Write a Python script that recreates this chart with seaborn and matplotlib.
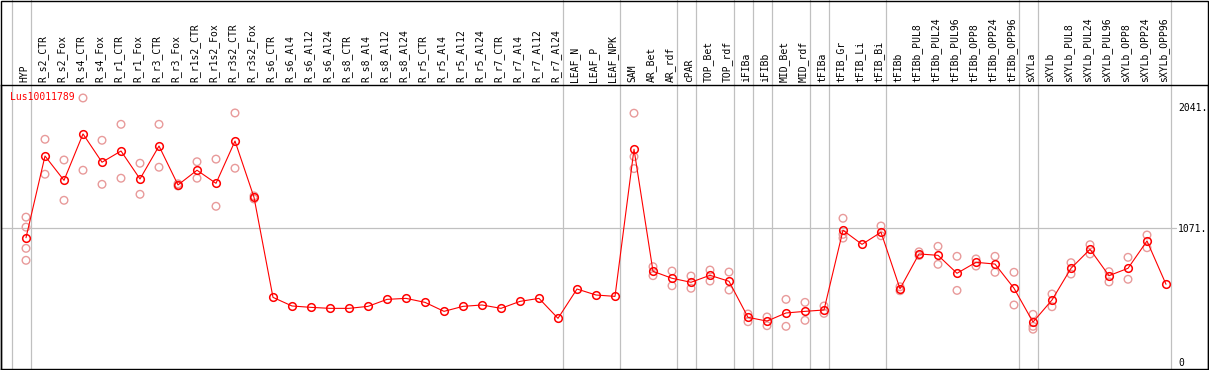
"""
Lus10011789 表达谱折线图（均值 + 重复样本）
"""

import matplotlib.pyplot as plt
import seaborn as sns
import pandas as pd
from matplotlib.patches import Rectangle
from matplotlib.transforms import ScaledTranslation

# 数据
gene = 'Lus10011789'
samples = [
    'HYP', 'R_s2_CTR', 'R_s2_Fox', 'R_s4_CTR', 'R_s4_Fox', 'R_r1_CTR', 'R_r1_Fox',
    'R_r3_CTR', 'R_r3_Fox', 'R_r1s2_CTR', 'R_r1s2_Fox', 'R_r3s2_CTR', 'R_r3s2_Fox',
    'R_s6_CTR', 'R_s6_Al4', 'R_s6_Al12', 'R_s6_Al24', 'R_s8_CTR', 'R_s8_Al4',
    'R_s8_Al12', 'R_s8_Al24', 'R_r5_CTR', 'R_r5_Al4', 'R_r5_Al12', 'R_r5_Al24',
    'R_r7_CTR', 'R_r7_Al4', 'R_r7_Al12', 'R_r7_Al24', 'LEAF_N', 'LEAF_P', 'LEAF_NPK',
    'SAM', 'AR_Bet', 'AR_rdf', 'cPAR', 'TOP_Bet', 'TOP_rdf', 'iFIBa', 'iFIBb',
    'MID_Bet', 'MID_rdf', 'tFIBa', 'tFIB_Gr', 'tFIB_Li', 'tFIB_Bi', 'tFIBb',
    'tFIBb_PUL8', 'tFIBb_PUL24', 'tFIBb_PUL96', 'tFIBb_OPP8', 'tFIBb_OPP24',
    'tFIBb_OPP96', 'sXYLa', 'sXYLb', 'sXYLb_PUL8', 'sXYLb_PUL24', 'sXYLb_PUL96',
    'sXYLb_OPP8', 'sXYLb_OPP24', 'sXYLb_OPP96',
]
means = [
    993, 1648, 1453, 1825, 1598, 1688, 1464, 1728, 1416, 1534, 1429, 1768, 1317,
    515, 446, 435, 427, 427, 443, 499, 507, 475, 403, 443, 454, 427, 483, 507, 347,
    582, 534, 523,
    1702, 724, 668, 636, 692, 644, 355, 325, 390, 403, 414, 1053, 940, 1037, 584,
    863, 852, 708, 796, 782, 588, 317, 494, 748, 900, 689, 748, 967, 620,
]
replicates = [
    [1158, 1078, 908, 812], [1782, 1502], [1616, 1293], [2113, 1534], [1774, 1421],
    [1902, 1470], [1590, 1341], [1902, 1558], [1425, 1408], [1602, 1470],
    [1623, 1245], [1993, 1550], [1328, 1304],
    [], [], [], [], [], [], [], [], [], [], [], [], [], [], [], [], [], [], [],
    [1991, 1643, 1547], [761, 689], [726, 608], [686, 588], [734, 646], [718, 574],
    [382, 320], [358, 288], [499, 283], [475, 331], [446, 387], [1149, 1020, 990],
    [], [1087, 1009], [600, 568], [880, 850], [924, 780], [844, 571], [823, 766],
    [844, 716], [716, 454], [379, 283, 260], [542, 440], [793, 702], [937, 863],
    [721, 639], [836, 660], [1015, 913], [],
]
# 分组边界（组内最后一个样本的序号，-1 表示最左边）
group_ends = [-1, 0, 28, 31, 34, 35, 37, 38, 39, 41, 42, 45, 52, 53, 60]
ytick_vals = [0, 1071, 2041]
ytick_labels = ['0', '1071.', '2041.']

sns.set_style('white')
plt.rcParams['font.family'] = ['DejaVu Sans Mono']
plt.rcParams['text.color'] = 'black'
plt.rcParams['xtick.color'] = 'black'
plt.rcParams['ytick.color'] = 'black'

W, H = 1209, 370
fig = plt.figure(figsize=(W / 100, H / 100), dpi=100)
ax = fig.add_axes([1 / W, 1 / H, 1207 / W, 284 / H])

pos = list(range(len(samples)))
rep_df = pd.DataFrame(
    [(i, v) for i, vals in enumerate(replicates) for v in vals],
    columns=['pos', 'value'],
)

grey = '#C0C0C0'
for g in group_ends:
    ax.axvline(g + 0.24, ymin=0, ymax=1 + 85 / 284, clip_on=False,
               color=grey, lw=0.9, zorder=1)
ax.axhline(1071, xmax=1175 / 1207, color=grey, lw=0.9, zorder=1)

sns.scatterplot(x=rep_df['pos'], y=rep_df['value'], ax=ax, marker='o', s=30,
                facecolor='none', edgecolor='#E89A9A', linewidth=1.0, zorder=2)
sns.lineplot(x=pos, y=means, ax=ax, sort=False, color='#FF0000', lw=0.8,
             marker='o', markersize=5.5, markerfacecolor='none',
             markeredgecolor='#FF0000', markeredgewidth=1.1, zorder=3)

ax.set_xlim(-25 / 19, 1182 / 19)
ax.set_ylim(-59, 2217)

ax.set_xticks(pos)
ax.set_xticklabels(samples)
ax.tick_params(axis='x', bottom=False, top=True, labelbottom=False, labeltop=True,
               length=0, pad=2.5, labelrotation=90, labelsize=7, labelcolor='black')
shift = ScaledTranslation(-2 / 100, 0, fig.dpi_scale_trans)
for lab in ax.get_xticklabels():
    lab.set_transform(lab.get_transform() + shift)
    lab.set_va('bottom')

ax.yaxis.tick_right()
ax.set_yticks(ytick_vals)
ax.set_yticklabels(ytick_labels)
ax.tick_params(axis='y', length=0, pad=-21.5, labelsize=7, labelcolor='black')
for lab in ax.get_yticklabels():
    lab.set_ha('left')

ax.set_xlabel('')
ax.set_ylabel('')
for s in ax.spines.values():
    s.set_color('black')
    s.set_linewidth(1.0)

ax.text(9 / 1207, (369 - 97) / 284, gene, transform=ax.transAxes, color='#FF0000',
        fontsize=7, ha='left', va='center')

# 外框
fig.add_artist(Rectangle((0.5 / W, 0.5 / H), 1207.5 / W, 369 / H, transform=fig.transFigure,
                         fill=False, edgecolor='black', lw=1.0))

fig.savefig('out.png', dpi=100)
